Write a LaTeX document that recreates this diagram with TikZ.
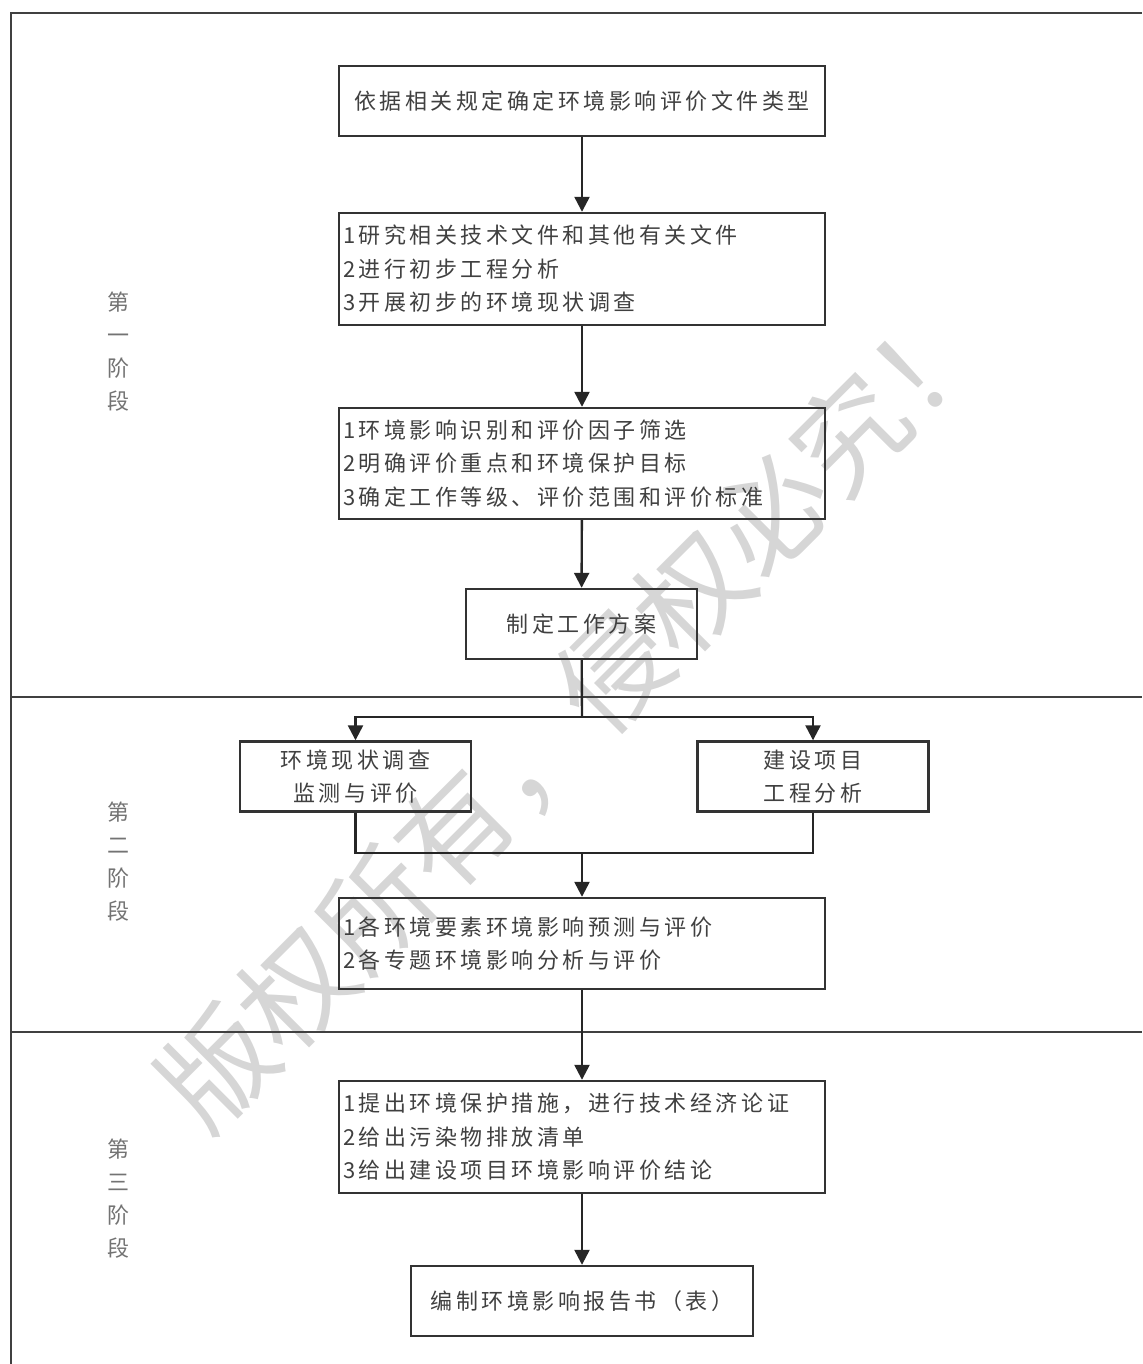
\documentclass[tikz,border=0pt]{standalone}
\usepackage{fontspec}
\newfontfamily\cjk[LetterSpace=16]{Noto Sans CJK SC}
\newfontfamily\cjkwm{Noto Sans CJK SC}
\usetikzlibrary{arrows.meta}

\begin{document}
\begin{tikzpicture}[
  x=0.5pt, y=-0.5pt,
  box/.style={draw=black!80, line width=1.2pt, inner sep=2pt, minimum height=35pt,
              font=\cjk\fontsize{11pt}{16.75pt}\selectfont, text=black!75, align=center},
  listbox/.style={box, text width=239pt, align=left},
  halfbox/.style={box, minimum width=115.5pt, font=\cjk\fontsize{11pt}{16.5pt}\selectfont},
  phase/.style={font=\cjk\fontsize{11pt}{16.5pt}\selectfont, text=black!55, align=center},
  frame/.style={draw=black!75, line width=1.2pt},
  line/.style={draw=black!85, line width=1.2pt},
  arr/.style={line, -{Triangle[length=7.5pt, width=7.5pt]}},
  watermark/.style={text=black!16, font=\cjkwm\fontsize{56pt}{56pt}\selectfont, rotate=45}
]
\useasboundingbox (0,0) rectangle (1142,1364);

% watermark
\node[watermark] (wm) at (574,712) {版权所有，侵权必究！};

% frame and stage dividers
\draw[frame] (1142,13) -- (11,13) -- (11,1364);
\draw[frame] (11,697) -- (1142,697);
\draw[frame] (11,1032) -- (1142,1032);

% stage labels
\node[phase] (p1) at (118,352) {第\\一\\阶\\段};
\node[phase] (p2) at (118,862) {第\\二\\阶\\段};
\node[phase] (p3) at (118,1199) {第\\三\\阶\\段};

% stage 1
\node[box, minimum width=243pt] (b1) at (582,101) {依据相关规定确定环境影响评价文件类型};
\node[listbox, minimum height=56pt] (b2) at (582,269)
  {1研究相关技术文件和其他有关文件\\2进行初步工程分析\\3开展初步的环境现状调查};
\node[listbox, minimum height=55.5pt] (b3) at (582,463.5)
  {1环境影响识别和评价因子筛选\\2明确评价重点和环境保护目标\\3确定工作等级、评价范围和评价标准};
\node[box, minimum width=115.5pt] (b4) at (581.5,624) {制定工作方案};

% stage 2
\node[halfbox] (b5) at (355.5,776.5) {环境现状调查\\监测与评价};
\node[halfbox] (b6) at (813,776.5) {建设项目\\工程分析};
\node[listbox, minimum height=45.5pt] (b7) at (582,943.5)
  {1各环境要素环境影响预测与评价\\2各专题环境影响分析与评价};

% stage 3
\node[listbox, minimum height=56pt] (b8) at (582,1137)
  {1提出环境保护措施，进行技术经济论证\\2给出污染物排放清单\\3给出建设项目环境影响评价结论};
\node[box, minimum width=171pt] (b9) at (582,1301) {编制环境影响报告书（表）};

% connectors
\coordinate (split) at (582,717);
\coordinate (join) at (582,853);
\draw[arr] (b1) -- (b2);
\draw[arr] (b2) -- (b3);
\draw[arr] (b3) -- (b4);
\draw[line] (b4) -- (split);
\draw[arr] (split) -| (b5);
\draw[arr] (split) -| (b6);
\draw[line] (b5) |- (join);
\draw[line] (b6) |- (join);
\draw[arr] (join) -- (b7);
\draw[arr] (b7) -- (b8);
\draw[arr] (b8) -- (b9);
\end{tikzpicture}
\end{document}
